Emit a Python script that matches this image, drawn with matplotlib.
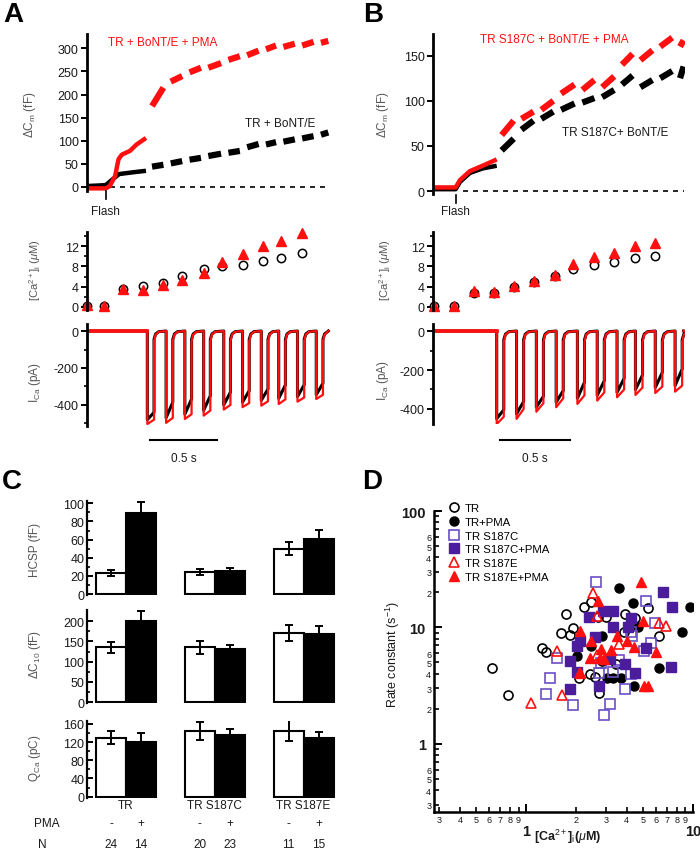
import matplotlib
matplotlib.use('Agg')
import matplotlib.pyplot as plt
from matplotlib.ticker import FixedLocator, FixedFormatter
from matplotlib.transforms import blended_transform_factory

plt.rcParams['font.family'] = ['Liberation Sans', 'DejaVu Sans']
plt.rcParams['mathtext.fontset'] = 'custom'
plt.rcParams['mathtext.rm'] = 'Liberation Sans'
plt.rcParams['mathtext.it'] = 'Liberation Sans:italic'
plt.rcParams['mathtext.bf'] = 'Liberation Sans:bold'
plt.rcParams['axes.unicode_minus'] = False

RED = '#ff1010'
PURPLE = '#4b1c9c'
PURPLE_OPEN = '#6b4fc4'
TXT = '#1a1a1a'
LAB = '#555555'

# ---- A / B: stimulus timing (s)
pulse_t = [0.45, 0.59, 0.73, 0.87, 1.02, 1.16, 1.30, 1.43, 1.57, 1.71]
pulse_dur = 0.05
flash_a = 0.14
flash_b = 0.16

# ---- A: capacitance (fF)
a_pre_t_k = [0, 0.14, 0.18, 0.24, 0.35, 0.44]
a_pre_k = [2, 4, 14, 28, 32, 35]
a_pre_t_r = [0, 0.14, 0.17, 0.21, 0.235, 0.26, 0.32, 0.37, 0.44]
a_pre_r = [-3, -3, 2, 24, 60, 70, 78, 92, 106]
a_seg_r_start = [175, 228, 248, 258, 275, 285, 298, 303, 306, 312]
a_seg_r_end = [215, 240, 258, 268, 283, 295, 306, 310, 314, 316]
a_seg_k_start = [44, 51, 59, 67, 74, 86, 92, 98, 105, 113]
a_seg_k_end = [48, 56, 63, 72, 78, 93, 97, 103, 110, 118]

# ---- A: [Ca2+]i (uM)
a_ca_t = [0.0, 0.13, 0.27, 0.42, 0.57, 0.71, 0.87, 1.01, 1.16, 1.31, 1.45, 1.60]
a_ca_ctrl = [0.1, 0.1, 3.5, 4.2, 4.7, 6.2, 7.5, 8.0, 8.3, 9.1, 9.6, 10.6]
a_ca_pma = [0.3, 0.2, 3.6, 3.3, 4.3, 5.4, 6.8, 8.8, 10.5, 12.1, 13.1, 14.6]

# ---- A: ICa (pA)
a_r_peak = [-503, -497, -476, -458, -425, -412, -404, -395, -382, -368]
a_r_end = [-480, -470, -450, -430, -400, -390, -380, -370, -360, -345]
a_k_peak = [-480, -470, -450, -430, -400, -385, -375, -365, -355, -345]
a_k_end = [-440, -385, -368, -350, -331, -323, -314, -292, -291, -283]

# ---- B: capacitance (fF)
b_pre_t_k = [0, 0.16, 0.19, 0.26, 0.35, 0.45]
b_pre_k = [2, 2, 10, 20, 25, 28]
b_pre_t_r = [0, 0.16, 0.19, 0.26, 0.35, 0.45]
b_pre_r = [4, 4, 12, 22, 28, 35]
b_seg_r_start = [62, 80, 90, 108, 112, 115, 140, 145, 160, 160]
b_seg_r_end = [78, 88, 100, 118, 123, 127, 152, 156, 170, 167]
b_seg_k_start = [45, 68, 80, 90, 98, 104, 118, 115, 125, 125]
b_seg_k_end = [58, 78, 88, 97, 103, 112, 128, 123, 133, 138]

# ---- B: [Ca2+]i (uM)
b_ca_t = [0.01, 0.15, 0.29, 0.43, 0.57, 0.71, 0.86, 0.99, 1.14, 1.28, 1.43, 1.57]
b_ca_ctrl = [0.1, 0.1, 2.75, 2.75, 3.85, 4.85, 6.1, 7.45, 8.2, 8.9, 9.7, 10.1]
b_ca_pma = [0.2, 0.2, 3.2, 3.0, 4.2, 5.2, 6.3, 8.4, 9.9, 10.7, 12.0, 12.7]

# ---- B: ICa (pA)
b_r_peak = [-477, -451, -414, -391, -374, -357, -340, -328, -318, -311]
b_r_end = [-440, -400, -370, -345, -330, -315, -300, -290, -285, -280]
b_k_peak = [-450, -425, -390, -365, -345, -330, -315, -300, -290, -280]
b_k_end = [-404, -362, -335, -306, -263, -255, -243, -226, -212, -195]

# ---- C: bar data
groups = ['TR', 'TR S187C', 'TR S187E']
hcsp_ctrl = [23, 24, 50]
hcsp_ctrl_err = [3, 3.5, 7]
hcsp_pma = [89, 25, 61]
hcsp_pma_err = [13, 4, 10]
dc10_ctrl = [135, 135, 171]
dc10_ctrl_err = [14, 16, 20]
dc10_pma = [201, 130, 168]
dc10_pma_err = [24, 12, 19]
qca_ctrl = [130, 145, 145]
qca_ctrl_err = [14, 20, 23]
qca_pma = [120, 136, 128]
qca_pma_err = [21, 12, 14]
n_ctrl = [24, 20, 11]
n_pma = [14, 23, 15]

# ---- D: rate constant vs [Ca2+]i
tr_x = [0.62, 0.78, 1.25, 1.32, 1.62, 1.83, 1.92, 1.73, 2.22, 2.43, 2.71, 3.0, 3.9, 4.48, 5.39, 6.26,
        3.85, 2.83, 3.45, 2.08, 2.41, 2.58, 2.74]
tr_y = [4.45, 2.65, 6.7, 6.2, 8.9, 8.6, 9.8, 13.0, 15.1, 16.5, 12.4, 12.4, 13.0, 12.0, 14.6, 8.5,
        9.05, 5.15, 4.9, 3.7, 3.95, 3.78, 2.74]
trp_x = [3.61, 4.34, 9.55, 8.63, 4.69, 2.83, 2.43, 2.01, 3.03, 3.33, 3.68, 4.42, 6.26]
trp_y = [21.9, 16.1, 14.9, 9.05, 10.0, 8.47, 6.93, 5.69, 3.65, 3.65, 3.65, 3.17, 4.44]
s187c_x = [2.62, 5.26, 5.9, 5.1, 5.58, 4.28, 4.22, 3.6, 2.8, 1.52, 1.38, 1.32, 1.92, 2.93, 3.18,
           3.9, 4.22, 3.33, 2.73]
s187c_y = [24.8, 16.8, 10.9, 6.28, 7.41, 8.47, 9.2, 5.3, 4.98, 5.43, 3.7, 2.69, 2.17, 1.78, 2.22,
           2.97, 3.95, 4.17, 4.09]
s187cp_x = [6.62, 7.52, 2.9, 3.33, 2.39, 4.22, 3.3, 4.09, 2.58, 2.1, 2.03, 5.26, 1.83, 3.18, 3.9,
            7.36, 2.03, 1.82, 2.74, 4.48]
s187cp_y = [20.1, 14.9, 13.9, 13.9, 12.2, 12.0, 10.0, 10.0, 8.2, 7.68, 6.94, 6.71, 5.15, 5.32, 4.89,
            4.57, 4.17, 2.97, 3.17, 4.09]
s187e_x = [2.52, 2.64, 6.26, 6.87, 3.61, 2.64, 1.52, 2.1, 1.63, 1.07]
s187e_y = [19.8, 12.6, 11.0, 10.3, 7.17, 5.77, 6.28, 4.03, 2.65, 2.25]
s187ep_x = [4.91, 2.71, 4.98, 2.1, 2.43, 3.51, 4.0, 2.79, 3.21, 4.44, 6.04, 2.41, 2.77, 2.94,
            2.1, 5.1, 5.38]
s187ep_y = [24.8, 17.0, 11.4, 9.36, 7.68, 8.36, 7.68, 6.58, 6.41, 6.85, 6.17, 5.43, 5.5, 5.4,
            4.03, 3.17, 3.17]

W, H = 700, 853
fig = plt.figure(figsize=(7, 8.53), dpi=100)


def px_box(l, t, r, b):
    return [l / W, 1 - b / H, (r - l) / W, (b - t) / H]


def ftext(x, y, s, **kw):
    fig.text(x / W, 1 - y / H, s, **kw)


def left_only(ax, direction='out', lw=2):
    for s in ['top', 'right', 'bottom']:
        ax.spines[s].set_visible(False)
    ax.spines['left'].set_linewidth(lw)
    ax.tick_params(axis='y', which='major', direction=direction, width=1.4, length=4,
                   labelsize=9, pad=2, labelcolor=TXT)
    ax.tick_params(axis='y', which='minor', direction=direction, width=1.2, length=2.5)
    ax.set_xticks([])
    ax.patch.set_alpha(0)


def ica_trace(peaks, ends, tail, t_end):
    t = [0.0]
    v = [0.0]
    for k, t0 in enumerate(pulse_t):
        t1 = t0 + pulse_dur
        t += [t0, t0, t1, t1, t1 + 0.012, t1 + 0.035]
        v += [0, peaks[k], ends[k], -tail, -tail * 0.35, -tail * 0.08]
    t.append(t_end)
    v.append(0)
    return t, v


def cm_panel(ax, pre_t_k, pre_k, pre_t_r, pre_r, k0, k1, r0, r1, t_end):
    ax.plot(pre_t_k, pre_k, color='black', lw=3.2, solid_capstyle='butt')
    ax.plot(pre_t_r, pre_r, color=RED, lw=3.2, solid_capstyle='butt')
    for k in range(len(pulse_t)):
        ts = pulse_t[k] + 0.035
        te = pulse_t[k + 1] - 0.02 if k + 1 < len(pulse_t) else t_end
        ax.plot([ts, te], [k0[k], k1[k]], color='black', lw=4.5, solid_capstyle='butt')
        ax.plot([ts, te], [r0[k], r1[k]], color=RED, lw=4.5, solid_capstyle='butt')


# ================= Panel A =================
ftext(13, 15, 'A', fontsize=20, fontweight='bold', ha='center', va='center')
axA1 = fig.add_axes(px_box(87, 35, 331, 192))
left_only(axA1)
axA1.set_xlim(0, 1.82)
axA1.set_ylim(-8.7, 331)
axA1.set_yticks([0, 50, 100, 150, 200, 250, 300])
axA1.plot([0.17, 1.79], [0, 0], color='black', lw=1.2, dashes=(3, 3))
cm_panel(axA1, a_pre_t_k, a_pre_k, a_pre_t_r, a_pre_r,
         a_seg_k_start, a_seg_k_end, a_seg_r_start, a_seg_r_end, 1.80)
axA1.plot([flash_a, flash_a], [-9, -27], color='black', lw=1.2, clip_on=False)
axA1.text(flash_a, -52, 'Flash', ha='center', va='center', fontsize=8.5, color=TXT)
ftext(163, 43, 'TR + BoNT/E + PMA', color=RED, fontsize=8.5, ha='center', va='center')
ftext(280, 124, 'TR + BoNT/E', color=TXT, fontsize=8.5, ha='center', va='center')
ftext(30, 115, r'$\Delta$C$_\mathrm{m}$ (fF)', rotation=90, fontsize=8.5, color=LAB,
      ha='center', va='center')

axA2 = fig.add_axes(px_box(87, 233, 331, 311))
left_only(axA2)
axA2.set_xlim(0, 1.82)
axA2.set_ylim(-0.6, 14.8)
axA2.set_yticks([0, 4, 8, 12])
axA2.set_yticks([2, 6, 10, 14], minor=True)
axA2.plot(a_ca_t, a_ca_ctrl, 'o', ms=6, mfc='white', mec='black', mew=1.1, clip_on=False)
axA2.plot(a_ca_t, a_ca_pma, '^', ms=6.5, color=RED, mec=RED, clip_on=False)
ftext(35, 270, r'[Ca$^{2+}$]$_\mathrm{i}$ ($\mu$M)', rotation=90, fontsize=8, color=LAB,
      ha='center', va='center')

axA3 = fig.add_axes(px_box(87, 325, 331, 427))
left_only(axA3)
axA3.set_xlim(0, 1.82)
axA3.set_ylim(-514, 38)
axA3.set_yticks([0, -200, -400])
axA3.set_yticks([-100, -300, -500], minor=True)
t, v = ica_trace(a_k_peak, a_k_end, 45, 1.80)
axA3.plot(t, v, color='black', lw=2.2)
t, v = ica_trace(a_r_peak, a_r_end, 55, 1.80)
axA3.plot(t, v, color=RED, lw=1.6)
axA3.plot([0, pulse_t[0]], [0, 0], color=RED, lw=2.6)
axA3.plot([0.47, 0.97], [-589, -589], color='black', lw=1.5, clip_on=False)
axA3.text(0.72, -686, '0.5 s', ha='center', va='center', fontsize=8.5, color=TXT)
ftext(35, 382, r'I$_\mathrm{Ca}$ (pA)', rotation=90, fontsize=8.5, color=LAB,
      ha='center', va='center')

# ================= Panel B =================
ftext(373, 15, 'B', fontsize=20, fontweight='bold', ha='center', va='center')
axB1 = fig.add_axes(px_box(433, 35, 685, 195))
left_only(axB1)
axB1.set_xlim(0, 1.78)
axB1.set_ylim(-3.3, 174)
axB1.set_yticks([0, 50, 100, 150])
axB1.plot([0.21, 1.77], [0, 0], color='black', lw=1.2, dashes=(3, 3))
cm_panel(axB1, b_pre_t_k, b_pre_k, b_pre_t_r, b_pre_r,
         b_seg_k_start, b_seg_k_end, b_seg_r_start, b_seg_r_end, 1.77)
axB1.plot([flash_b, flash_b], [-4, -13], color='black', lw=1.2, clip_on=False)
axB1.text(flash_b, -22, 'Flash', ha='center', va='center', fontsize=8.5, color=TXT)
ftext(554, 40, 'TR S187C + BoNT/E + PMA', color=RED, fontsize=8.5, ha='center', va='center')
ftext(615, 133, 'TR S187C+ BoNT/E', color=TXT, fontsize=8.5, ha='center', va='center')
ftext(383, 115, r'$\Delta$C$_\mathrm{m}$ (fF)', rotation=90, fontsize=8.5, color=LAB,
      ha='center', va='center')

axB2 = fig.add_axes(px_box(433, 233, 685, 311))
left_only(axB2)
axB2.set_xlim(0, 1.78)
axB2.set_ylim(-0.6, 14.8)
axB2.set_yticks([0, 4, 8, 12])
axB2.set_yticks([2, 6, 10, 14], minor=True)
axB2.plot(b_ca_t, b_ca_ctrl, 'o', ms=6, mfc='white', mec='black', mew=1.1, clip_on=False)
axB2.plot(b_ca_t, b_ca_pma, '^', ms=6.5, color=RED, mec=RED, clip_on=False)
ftext(385, 270, r'[Ca$^{2+}$]$_\mathrm{i}$ ($\mu$M)', rotation=90, fontsize=8, color=LAB,
      ha='center', va='center')

axB3 = fig.add_axes(px_box(433, 325, 685, 425))
left_only(axB3)
axB3.set_xlim(0, 1.78)
axB3.set_ylim(-477, 36)
axB3.set_yticks([0, -200, -400])
axB3.set_yticks([-100, -300], minor=True)
t, v = ica_trace(b_k_peak, b_k_end, 45, 1.77)
axB3.plot(t, v, color='black', lw=2.2)
t, v = ica_trace(b_r_peak, b_r_end, 55, 1.77)
axB3.plot(t, v, color=RED, lw=1.6)
axB3.plot([0, pulse_t[0]], [0, 0], color=RED, lw=2.6)
axB3.plot([0.47, 0.97], [-559, -559], color='black', lw=1.5, clip_on=False)
axB3.text(0.72, -651, '0.5 s', ha='center', va='center', fontsize=8.5, color=TXT)
ftext(383, 380, r'I$_\mathrm{Ca}$ (pA)', rotation=90, fontsize=8.5, color=LAB,
      ha='center', va='center')

# ================= Panel C =================
ftext(12, 482, 'C', fontsize=20, fontweight='bold', ha='center', va='center')
bw = 0.338
gx = list(range(len(groups)))
rows = [
    (px_box(87, 501.6, 335.5, 596), (-1, 103), [0, 20, 40, 60, 80, 100], [10, 30, 50, 70, 90],
     hcsp_ctrl, hcsp_ctrl_err, hcsp_pma, hcsp_pma_err, 'HCSP (fF)', 550),
    (px_box(87, 611.1, 335.5, 704.1), (-2, 227), [0, 50, 100, 150, 200], [25, 75, 125, 175],
     dc10_ctrl, dc10_ctrl_err, dc10_pma, dc10_pma_err, r'$\Delta$C$_{10}$ (fF)', 655),
    (px_box(87, 721.7, 335.5, 798.6), (-2, 167), [0, 40, 80, 120, 160], [20, 60, 100, 140],
     qca_ctrl, qca_ctrl_err, qca_pma, qca_pma_err, r'Q$_\mathrm{Ca}$ (pC)', 758),
]
axC = []
for box, ylim, ticks, mticks, c, ce, p, pe, lab, ly in rows:
    ax = fig.add_axes(box)
    left_only(ax, direction='in', lw=1.6)
    ax.set_xlim(-0.44, 2.36)
    ax.set_ylim(*ylim)
    ax.set_yticks(ticks)
    ax.set_yticks(mticks, minor=True)
    ax.bar([g - bw / 2 for g in gx], c, bw, color='white', edgecolor='black', lw=1.5,
           yerr=ce, capsize=3, error_kw=dict(lw=1.4, capthick=1.4))
    ax.bar([g + bw / 2 for g in gx], p, bw, color='black', edgecolor='black', lw=1.5,
           yerr=pe, capsize=3, error_kw=dict(lw=1.4, capthick=1.4))
    ftext(35, ly, lab, rotation=90, fontsize=8.5, color=LAB, ha='center', va='center')
    axC.append(ax)

tr = blended_transform_factory(axC[2].transData, axC[2].transAxes)
for g, name in zip(gx, groups):
    axC[2].text(g, -0.10, name, transform=tr, ha='center', va='center', fontsize=8.5, color=TXT)
    axC[2].text(g - bw / 2, -0.33, '-', transform=tr, ha='center', va='center', fontsize=8.5,
                color=TXT)
    axC[2].text(g + bw / 2, -0.33, '+', transform=tr, ha='center', va='center', fontsize=8.5,
                color=TXT)
    axC[2].text(g - bw / 2, -0.60, str(n_ctrl[g]), transform=tr, ha='center', va='center',
                fontsize=8.5, color=TXT)
    axC[2].text(g + bw / 2, -0.60, str(n_pma[g]), transform=tr, ha='center', va='center',
                fontsize=8.5, color=TXT)
axC[2].text(-0.89, -0.33, 'PMA', transform=tr, ha='center', va='center', fontsize=8.5, color=TXT)
axC[2].text(-0.94, -0.60, 'N', transform=tr, ha='center', va='center', fontsize=8.5, color=TXT)

# ================= Panel D =================
ftext(372, 482, 'D', fontsize=20, fontweight='bold', ha='center', va='center')
axD = fig.add_axes(px_box(434, 512, 693, 813))
axD.set_xscale('log')
axD.set_yscale('log')
axD.plot(tr_x, tr_y, 'o', ms=6.5, mfc='none', mec='black', mew=1.2, label='TR')
axD.plot(trp_x, trp_y, 'o', ms=6.5, color='black', label='TR+PMA')
axD.plot(s187c_x, s187c_y, 's', ms=6.5, mfc='none', mec=PURPLE_OPEN, mew=1.2, label='TR S187C')
axD.plot(s187cp_x, s187cp_y, 's', ms=6.5, color=PURPLE, label='TR S187C+PMA')
axD.plot(s187e_x, s187e_y, '^', ms=7, mfc='none', mec=RED, mew=1.2, label='TR S187E')
axD.plot(s187ep_x, s187ep_y, '^', ms=7, color=RED, label='TR S187E+PMA')
axD.set_xlim(0.28, 10)
axD.set_ylim(0.26, 100)
for s in ['top', 'right']:
    axD.spines[s].set_visible(False)
for s in ['left', 'bottom']:
    axD.spines[s].set_linewidth(1.8)

x_minor = [0.3, 0.4, 0.5, 0.6, 0.7, 0.8, 0.9, 2, 3, 4, 5, 6, 7, 8, 9]
y_minor = [0.3, 0.4, 0.5, 0.6, 0.7, 0.8, 0.9, 2, 3, 4, 5, 6, 7, 8, 9,
           20, 30, 40, 50, 60, 70, 80, 90]
axD.xaxis.set_major_locator(FixedLocator([1, 10]))
axD.xaxis.set_major_formatter(FixedFormatter(['1', '10']))
axD.xaxis.set_minor_locator(FixedLocator(x_minor))
axD.xaxis.set_minor_formatter(FixedFormatter([f'{v:g}'.replace('0.', '')[0] for v in x_minor]))
axD.yaxis.set_major_locator(FixedLocator([1, 10, 100]))
axD.yaxis.set_major_formatter(FixedFormatter(['1', '10', '100']))
axD.yaxis.set_minor_locator(FixedLocator(y_minor))
y_minor_lab = []
for v in y_minor:
    d = f'{v:g}'.replace('0.', '')[0]
    y_minor_lab.append(d if d in '23456' else '')
axD.yaxis.set_minor_formatter(FixedFormatter(y_minor_lab))
axD.tick_params(which='major', direction='in', length=6, width=1.4, labelsize=10.5,
                labelcolor=TXT)
axD.tick_params(which='minor', direction='in', length=3.5, width=1.2, labelsize=6.5,
                labelcolor=TXT)
axD.tick_params(axis='x', which='major', pad=9)
axD.tick_params(axis='x', which='minor', pad=2)
axD.tick_params(axis='y', which='major', pad=6)
axD.tick_params(axis='y', which='minor', pad=2)
for lbl in axD.get_xticklabels() + axD.get_yticklabels():
    lbl.set_fontweight('bold')
axD.legend(loc='upper left', bbox_to_anchor=(0.055, 1.025), frameon=False, handlelength=1.0,
           handletextpad=0.46, labelspacing=0.32, fontsize=8.2, borderaxespad=0, borderpad=0)
ftext(393, 655, r'Rate constant (s$^{-1}$)', rotation=90, fontsize=9, color=TXT,
      ha='center', va='center')
ftext(568, 837, r'[Ca$^{2+}$]$_\mathrm{i}$($\mu$M)', fontsize=9, color=TXT, fontweight='bold',
      ha='center', va='center')

fig.savefig('out.png', dpi=100)
